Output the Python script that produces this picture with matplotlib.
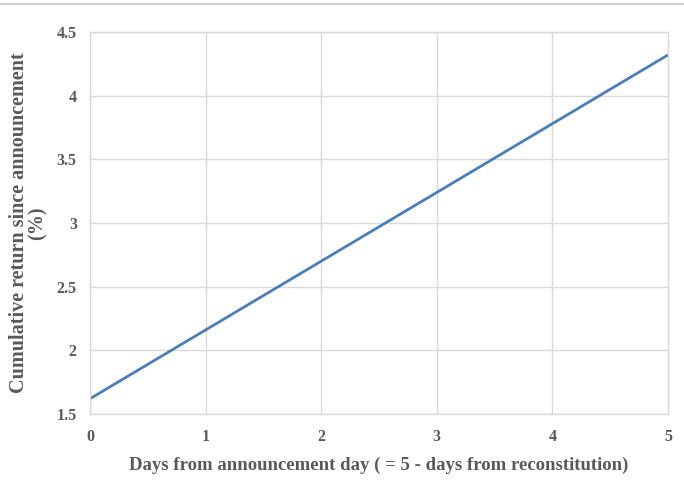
import matplotlib
matplotlib.use("Agg")
import matplotlib.pyplot as plt
from matplotlib.lines import Line2D

days = [0, 1, 2, 3, 4, 5]
cum_return = [1.62, 2.16, 2.70, 3.24, 3.78, 4.32]
x_ticks = [0, 1, 2, 3, 4, 5]
y_ticks = [1.5, 2, 2.5, 3, 3.5, 4, 4.5]
y_tick_labels = ["1.5", "2", "2.5", "3", "3.5", "4", "4.5"]

plt.rcParams["font.family"] = ["Liberation Serif", "DejaVu Serif"]
text_color = "#595959"
grid_color = "#d9d9d9"

fig = plt.figure(figsize=(6.84, 5.04), dpi=100)
ax = fig.add_axes([0.1316, 0.1786, 0.845, 0.7579])

ax.plot(days, cum_return, color="#4a7ebb", linewidth=2.0, solid_capstyle="butt")

ax.set_xlim(0, 5)
ax.set_ylim(1.5, 4.5)
ax.set_xticks(x_ticks)
ax.set_yticks(y_ticks)
ax.set_yticklabels(y_tick_labels)
ax.grid(True, color=grid_color, linewidth=1.0)
ax.set_axisbelow(True)
for s in ax.spines.values():
    s.set_color(grid_color)
    s.set_linewidth(1.0)

ax.tick_params(axis="both", length=0, labelsize=11.5, labelcolor=text_color)
ax.tick_params(axis="y", pad=9.5)
ax.tick_params(axis="x", pad=11)
for lbl in ax.get_xticklabels() + ax.get_yticklabels():
    lbl.set_fontweight("bold")

ax.set_xlabel("Days from announcement day ( = 5 - days from reconstitution)",
              fontsize=13.5, fontweight="bold", color=text_color, labelpad=8)
ax.set_ylabel("Cumulative return since announcement\n(%)",
              fontsize=14.5, fontweight="bold", color=text_color,
              linespacing=0.88)
ax.yaxis.set_label_coords(-0.074, 0.5)

# thin gray rule across the top of the image
fig.add_artist(Line2D([0, 1], [0.992, 0.992], transform=fig.transFigure,
                      color="#d0d0d0", linewidth=1.5))

fig.savefig("out.png", dpi=100, facecolor="white")
